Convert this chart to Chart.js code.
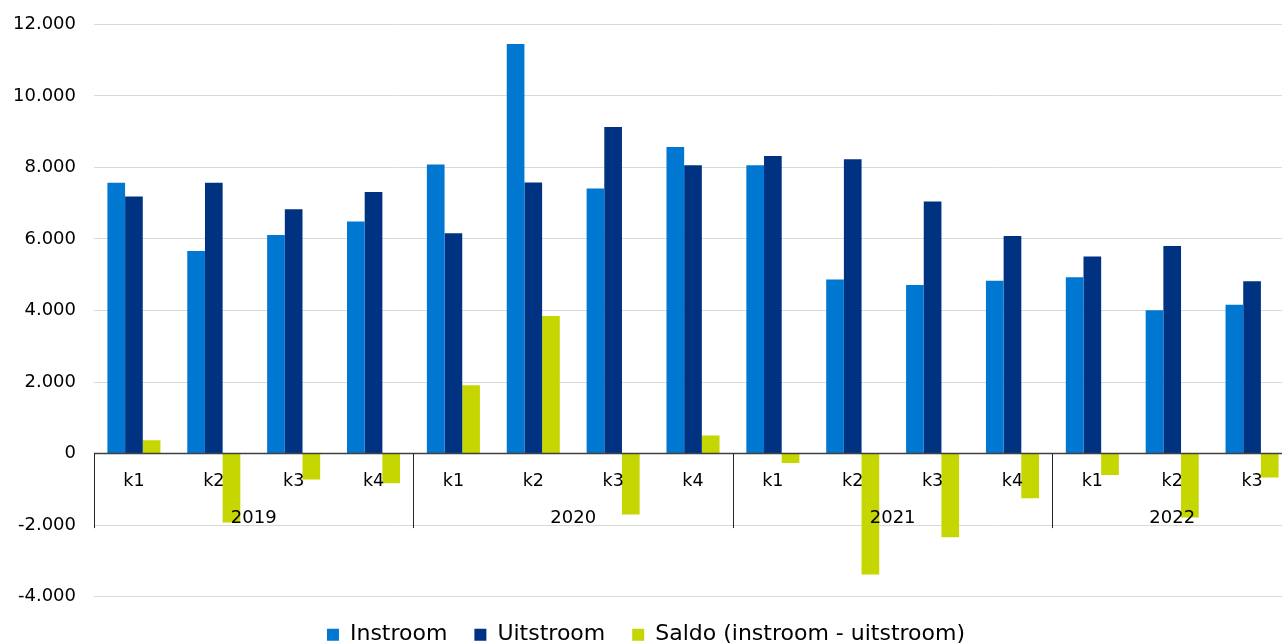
<!DOCTYPE html>
<html>
<head>
<meta charset="utf-8">
<script src="https://cdn.jsdelivr.net/npm/chart.js@4/dist/chart.umd.min.js"></script>
<style>
  html, body { margin: 0; padding: 0; background: #fff; overflow: hidden; }
  #wrap { position: absolute; left: 0; top: 0; width: 1292px; height: 660px; }
</style>
</head>
<body>
<div id="wrap"><canvas id="c"></canvas></div>
<script>
// ---- data ----
const quarters = ['k1','k2','k3','k4','k1','k2','k3','k4','k1','k2','k3','k4','k1','k2','k3'];
const years = ['2019','2020','2021','2022'];
const yearStarts = [0, 4, 8, 12];
const yearEnds = [4, 8, 12, 15];
const instroom = [7570, 5660, 6110, 6490, 8080, 11450, 7410, 8570, 8060, 4870, 4710, 4830, 4930, 4005, 4160];
const uitstroom = [7190, 7570, 6830, 7310, 6160, 7580, 9130, 8060, 8320, 8230, 7050, 6080, 5510, 5800, 4820];
const saldo = [374, -1927, -726, -827, 1911, 3846, -1704, 503, -260, -3380, -2335, -1246, -595, -1788, -670];
const seriesNames = ['Instroom', 'Uitstroom', 'Saldo (instroom - uitstroom)'];
const yTicks = [-4000, -2000, 0, 2000, 4000, 6000, 8000, 10000, 12000];

function fmt(v) {
  const s = Math.abs(v).toString().replace(/\B(?=(\d{3})+(?!\d))/g, '.');
  return (v < 0 ? '-' : '') + s;
}

const FONT = 'DejaVu Sans, Verdana, sans-serif';

const categoryAxisPlugin = {
  id: 'categoryAxis',
  afterDatasetsDraw(chart) {
    const ctx = chart.ctx;
    const x = chart.scales.x, y = chart.scales.y;
    const area = chart.chartArea;
    const zeroY = y.getPixelForValue(0);
    const half = (x.getPixelForValue(1) - x.getPixelForValue(0)) / 2;
    ctx.save();
    // axis line
    ctx.strokeStyle = '#404040';
    ctx.lineWidth = 1.5;
    ctx.beginPath();
    ctx.moveTo(area.left, zeroY);
    ctx.lineTo(area.right, zeroY);
    ctx.stroke();
    // separators
    ctx.strokeStyle = '#262626';
    ctx.lineWidth = 1;
    yearStarts.forEach(s => {
      const px = Math.round(x.getPixelForValue(s) - half) + 0.5;
      ctx.beginPath();
      ctx.moveTo(px, zeroY);
      ctx.lineTo(px, zeroY + 74.5);
      ctx.stroke();
    });
    // quarter labels
    ctx.fillStyle = '#000';
    ctx.textAlign = 'center';
    ctx.textBaseline = 'alphabetic';
    ctx.font = '17.5px ' + FONT;
    quarters.forEach((q, i) => {
      ctx.fillText(q, x.getPixelForValue(i), zeroY + 32.3);
    });
    // year labels
    ctx.font = '18px ' + FONT;
    years.forEach((yr, i) => {
      const cx = (x.getPixelForValue(yearStarts[i]) + x.getPixelForValue(yearEnds[i] - 1)) / 2;
      ctx.fillText(yr, cx, zeroY + 69);
    });
    ctx.restore();
  }
};

new Chart(document.getElementById('c'), {
  type: 'bar',
  data: {
    labels: quarters,
    datasets: [
      { label: seriesNames[0], data: instroom, backgroundColor: '#0077d1' },
      { label: seriesNames[1], data: uitstroom, backgroundColor: '#003282' },
      { label: seriesNames[2], data: saldo, backgroundColor: '#c5d600' }
    ]
  },
  options: {
    responsive: true,
    maintainAspectRatio: false,
    animation: false,
    events: [],
    layout: { padding: { top: 24.3, left: 0, right: 0, bottom: 4.3 } },
    datasets: { bar: { barPercentage: 1, categoryPercentage: 0.664, borderWidth: 0 } },
    scales: {
      x: {
        display: false,
        offset: true
      },
      y: {
        min: -4000,
        max: 12000,
        afterBuildTicks(scale) { scale.ticks = yTicks.map(v => ({ value: v })); },
        afterFit(scale) { scale.width = 94; scale.paddingTop = 0; scale.paddingBottom = 0; },
        grid: { color: '#d9d9d9', lineWidth: 1, drawTicks: false },
        border: { display: false },
        ticks: {
          padding: 18,
          color: '#000',
          font: { family: FONT, size: 18 },
          callback: v => fmt(v)
        }
      }
    },
    plugins: {
      legend: {
        position: 'bottom',
        labels: {
          boxWidth: 12,
          boxHeight: 12,
          padding: 27,
          color: '#000',
          font: { family: FONT, size: 22 }
        }
      },
      tooltip: { enabled: false }
    }
  },
  plugins: [categoryAxisPlugin]
});
</script>
</body>
</html>
